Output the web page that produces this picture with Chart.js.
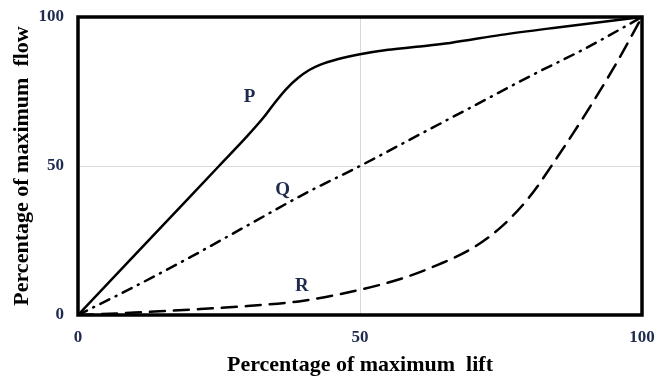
<!DOCTYPE html>
<html>
<head>
<meta charset="utf-8">
<script src="https://cdn.jsdelivr.net/npm/chart.js@4/dist/chart.umd.min.js"></script>
<style>
    html, body { margin: 0; padding: 0; background: #fff; }
    #wrap { width: 657px; height: 379px; }
</style>
</head>
<body>
<div id="wrap"><canvas id="liftChart"></canvas></div>
<script>
// curve P (quick opening)
const pLift = [0, 10, 20, 25, 30, 33, 35, 37, 39, 41, 43, 46, 50, 55, 60, 66, 75, 85, 100];
const pFlow = [0, 20, 40, 50, 60, 66.5, 71.5, 76, 79.5, 82.2, 84, 85.8, 87.5, 89, 90, 91.3, 94, 96.5, 100];

// curve Q (linear)
const qLift = [0, 10, 20, 30, 40, 50, 60, 70, 80, 90, 100];
const qFlow = [0, 9.5, 19.5, 30, 40.5, 50, 60, 70, 80, 89.5, 100];

// curve R (equal percentage)
const rLift = [0, 10, 20, 30, 40, 50, 57, 64, 70, 75, 80, 85, 90, 95, 100];
const rFlow = [0, 0.8, 1.8, 3, 4.8, 8.5, 12, 17, 22.5, 29.5, 39.5, 53, 67.5, 83, 100];

const xTicks = [0, 50, 100];
const yTicks = [0, 50, 100];

const curveLabels = [
    { text: 'P', x: 30.4, y: 73 },
    { text: 'Q', x: 36.3, y: 42 },
    { text: 'R', x: 39.7, y: 9.7 }
];

function toPoints(xs, ys) {
    return xs.map((x, i) => ({ x: x, y: ys[i] }));
}

const serif = "'Liberation Serif', 'Times New Roman', serif";
const tickColor = '#1f2a4f';

// the tick label overhang would push the plot inwards, layout.padding handles it instead
function noOverhang(s) {
    s.paddingTop = 0;
    s.paddingBottom = 0;
    s.paddingLeft = 0;
    s.paddingRight = 0;
}

// thick frame round the plot area + P/Q/R labels
const framePlugin = {
    id: 'frame',
    afterDatasetsDraw(chart) {
        const { ctx, chartArea: a, scales } = chart;
        ctx.save();
        ctx.strokeStyle = '#000';
        ctx.lineWidth = 3.5;
        ctx.strokeRect(a.left, a.top, a.right - a.left, a.bottom - a.top);

        ctx.fillStyle = tickColor;
        ctx.font = 'bold 19px ' + serif;
        ctx.textAlign = 'center';
        ctx.textBaseline = 'middle';
        curveLabels.forEach(l => {
            ctx.fillText(l.text, scales.x.getPixelForValue(l.x), scales.y.getPixelForValue(l.y));
        });
        ctx.restore();
    }
};

const lineBase = {
    showLine: true,
    pointRadius: 0,
    borderColor: '#000',
    borderWidth: 2.5,
    fill: false,
    cubicInterpolationMode: 'monotone',
    borderCapStyle: 'round'
};

new Chart(document.getElementById('liftChart'), {
    type: 'scatter',
    data: {
        datasets: [
            Object.assign({ label: 'P', data: toPoints(pLift, pFlow) }, lineBase),
            Object.assign({ label: 'Q', data: toPoints(qLift, qFlow), borderDash: [10, 7, 1, 7] }, lineBase),
            Object.assign({ label: 'R', data: toPoints(rLift, rFlow), borderDash: [15, 9] }, lineBase)
        ]
    },
    options: {
        responsive: true,
        maintainAspectRatio: false,
        animation: false,
        layout: {
            padding: { top: 17, right: 15, left: 0, bottom: 0 }
        },
        plugins: {
            legend: { display: false },
            tooltip: { enabled: false }
        },
        scales: {
            x: {
                type: 'linear',
                min: 0,
                max: 100,
                afterBuildTicks: s => { s.ticks = xTicks.map(v => ({ value: v })); },
                afterFit: s => { s.height = 64; noOverhang(s); },
                ticks: {
                    padding: 12,
                    color: tickColor,
                    font: { family: serif, size: 17, weight: 'bold' }
                },
                grid: {
                    color: '#d9d9d9',
                    lineWidth: 1,
                    drawTicks: false
                },
                border: { display: false },
                title: {
                    display: true,
                    text: 'Percentage of maximum  lift',
                    color: '#000',
                    padding: { top: 0, bottom: 0 },
                    font: { family: serif, size: 22, weight: 'bold' }
                }
            },
            y: {
                type: 'linear',
                min: 0,
                max: 100,
                afterBuildTicks: s => { s.ticks = yTicks.map(v => ({ value: v })); },
                afterFit: s => { s.width = 78; noOverhang(s); },
                ticks: {
                    padding: 14,
                    color: tickColor,
                    font: { family: serif, size: 17, weight: 'bold' }
                },
                grid: {
                    color: '#d9d9d9',
                    lineWidth: 1,
                    drawTicks: false
                },
                border: { display: false },
                title: {
                    display: true,
                    text: 'Percentage of maximum  flow',
                    color: '#000',
                    padding: { top: 9, bottom: 0 },
                    font: { family: serif, size: 22, weight: 'bold' }
                }
            }
        }
    },
    plugins: [framePlugin]
});
</script>
</body>
</html>
